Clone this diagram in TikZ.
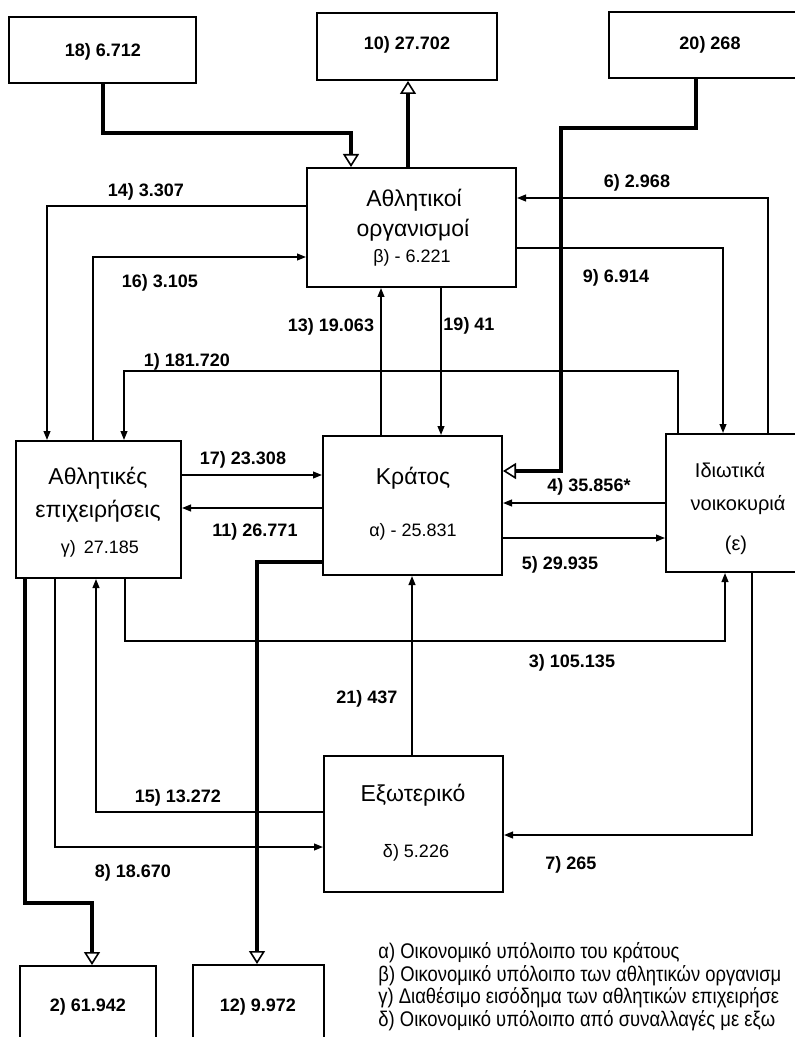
\documentclass[tikz,border=0pt]{standalone}
\usepackage{fontspec}
\setmainfont{Liberation Sans}
\newfontfamily\narrowfont[FakeStretch=0.87]{Liberation Sans}
\usetikzlibrary{arrows.meta}
\begin{document}
\begin{tikzpicture}[x=0.5pt,y=-0.5pt,
  box/.style={draw,line width=1pt,rectangle,inner sep=0pt},
  ttl/.style={inner sep=0pt,font=\fontsize{11.5}{12}\selectfont},
  sml/.style={inner sep=0pt,font=\fontsize{10}{12}\selectfont},
  val/.style={inner sep=0pt,font=\fontsize{9}{11}\selectfont},
  lab/.style={inner sep=0pt,font=\bfseries\fontsize{9}{10}\selectfont},
  leg/.style={inner sep=0pt,anchor=west,font=\narrowfont\fontsize{10.6}{12}\selectfont},
  arr/.style={line width=0.8pt,-{Triangle[length=4.5pt,width=3.4pt]}},
  fat/.style={line width=2.2pt,-{Triangle[length=6.5pt,width=8pt,fill=white,line width=0.8pt]}},
]
\useasboundingbox (0,0) rectangle (795,1037);
\clip (0,0) rectangle (795,1037);

% boxes
\node[box,minimum width=93.5pt,minimum height=33pt] (b18) at (102.5,50) {};
\node[box,minimum width=90pt,minimum height=33.5pt] (b10) at (407,46.5) {};
\node[box,minimum width=101pt,minimum height=33pt] (b20) at (710,45) {};
\node[box,minimum width=104.5pt,minimum height=59.5pt] (org) at (411.5,227.5) {};
\node[box,minimum width=82.5pt,minimum height=68.5pt] (ent) at (98.5,509.5) {};
\node[box,minimum width=89.5pt,minimum height=69.5pt] (state) at (412.5,505.5) {};
\node[box,minimum width=70pt,minimum height=69pt] (hh) at (736,503) {};
\node[box,minimum width=89.5pt,minimum height=68pt] (ext) at (413.5,824) {};
\node[box,minimum width=68pt,minimum height=41pt] (b2) at (88,1007) {};
\node[box,minimum width=65.5pt,minimum height=41.5pt] (b12) at (258.5,1006.5) {};

% box texts
\node[lab] (t18) at (103,52) {18) 6.712};
\node[lab] (t10) at (407,45) {10) 27.702};
\node[lab] (t20) at (710,45) {20) 268};
\node[lab] (t2) at (88,1007) {2) 61.942};
\node[lab] (t12) at (258,1007) {12) 9.972};

\node[ttl] (org1) at (414,200) {Αθλητικοί};
\node[ttl] (org2) at (413,230) {οργανισμοί};
\node[val] (org3) at (412,258) {β) - 6.221};
\node[ttl] (ent1) at (98,478) {Αθλητικές};
\node[ttl] (ent2) at (98,511) {επιχειρήσεις};
\node[val] (ent3) at (100,549) {γ)\, 27.185};
\node[ttl] (st1) at (413,478) {Κράτος};
\node[val] (st2) at (413,532) {α) - 25.831};
\node[sml] (hh1) at (730,470) {Ιδιωτικά};
\node[sml] (hh2) at (738,505) {νοικοκυριά};
\node[sml] (hh3) at (736,545) {(ε)};
\node[ttl] (ex1) at (413,795) {Εξωτερικό};
\node[val] (ex2) at (416,853) {δ) 5.226};

% thin connectors
\draw[arr] (org.west |- 0,206) -| (47,0 |- ent.north);
\draw[arr] (93,0 |- ent.north) |- (org.west |- 0,257);
\draw[arr] (678,0 |- hh.north) |- (124,371) -- (124,0 |- ent.north);
\draw[arr] (381,0 |- state.north) -- (381,0 |- org.south);
\draw[arr] (441,0 |- org.south) -- (441,0 |- state.north);
\draw[arr] (org.east |- 0,248) -| (723,0 |- hh.north);
\draw[arr] (768,0 |- hh.north) |- (org.east |- 0,198);
\draw[arr] (ent.east |- 0,475) -- (state.west |- 0,475);
\draw[arr] (state.west |- 0,508) -- (ent.east |- 0,508);
\draw[arr] (hh.west |- 0,503) -- (state.east |- 0,503);
\draw[arr] (state.east |- 0,538) -- (hh.west |- 0,538);
\draw[arr] (125,0 |- ent.south) |- (725,641) -- (725,0 |- hh.south);
\draw[arr] (ext.west |- 0,812) -| (96,0 |- ent.south);
\draw[arr] (55,0 |- ent.south) |- (ext.west |- 0,847);
\draw[arr] (412,0 |- ext.north) -- (412,0 |- state.south);
\draw[arr] (752,0 |- hh.south) |- (ext.east |- 0,835);

% thick connectors
\draw[fat] (103,0 |- b18.south) |- (351,133) -- (351,0 |- org.north);
\draw[fat] (408,0 |- org.north) -- (408,0 |- b10.south);
\draw[fat] (696,0 |- b20.south) |- (561,128) |- (state.east |- 0,471);
\draw[fat] (25,0 |- ent.south) |- (92,903) -- (92,0 |- b2.north);
\draw[fat] (state.west |- 0,562) -| (257,0 |- b12.north);

% connector labels
\node[lab] (l14) at (146,192) {14) 3.307};
\node[lab] (l16) at (160,283) {16) 3.105};
\node[lab] (l1) at (187,362) {1) 181.720};
\node[lab] (l13) at (331,327) {13) 19.063};
\node[lab] (l19) at (469,326) {19) 41};
\node[lab] (l9) at (616,278) {9) 6.914};
\node[lab] (l6) at (637,183) {6) 2.968};
\node[lab] (l17) at (243,460) {17) 23.308};
\node[lab] (l11) at (255,532) {11) 26.771};
\node[lab] (l4) at (589,487) {4) 35.856*};
\node[lab] (l5) at (560,565) {5) 29.935};
\node[lab] (l3) at (572,663) {3) 105.135};
\node[lab] (l21) at (367,699) {21) 437};
\node[lab] (l15) at (178,798) {15) 13.272};
\node[lab] (l8) at (133,873) {8) 18.670};
\node[lab] (l7) at (571,865) {7) 265};

% legend
\node[leg] (g1) at (378,953) {α) Οικονομικό υπόλοιπο του κράτους};
\node[leg] (g2) at (378,976) {β) Οικονομικό υπόλοιπο των αθλητικών οργανισμ};
\node[leg] (g3) at (378,998) {γ) Διαθέσιμο εισόδημα των αθλητικών επιχειρήσε};
\node[leg] (g4) at (378,1021) {δ) Οικονομικό υπόλοιπο από συναλλαγές με εξω};
\end{tikzpicture}
\end{document}
